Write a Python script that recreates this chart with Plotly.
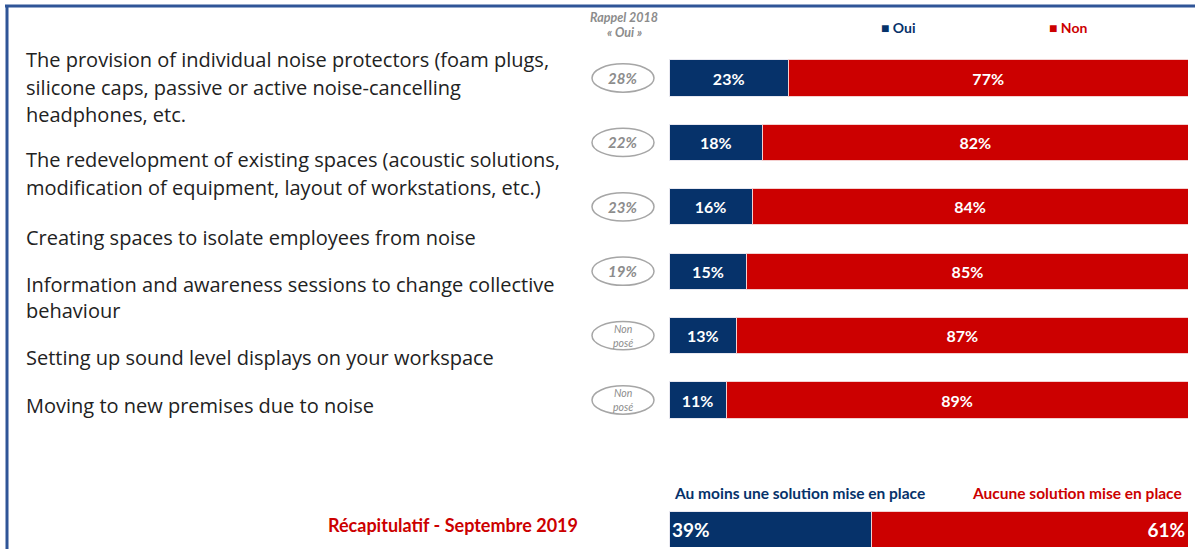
import plotly.graph_objects as go

# --- data -------------------------------------------------------------
solutions = [
    "The provision of individual noise protectors (foam plugs,<br>silicone caps, passive or active noise-cancelling<br>headphones, etc.",
    "The redevelopment of existing spaces (acoustic solutions,<br>modification of equipment, layout of workstations, etc.)",
    "Creating spaces to isolate employees from noise",
    "Information and awareness sessions to change collective<br>behaviour",
    "Setting up sound level displays on your workspace",
    "Moving to new premises due to noise",
]
oui = [23, 18, 16, 15, 13, 11]
non = [77, 82, 84, 85, 87, 89]
rappel_2018 = ["28%", "22%", "23%", "19%", "Non<br>posé", "Non<br>posé"]

summary_oui = 39
summary_non = 61
summary_labels = ["Au moins une solution mise en place", "Aucune solution mise en place"]

NAVY = "#06326A"
RED = "#CC0000"
FONT = "Lato"
LABEL_FONT = "Open Sans"

W, H = 1195, 551


def py(pixel_y):
    """Convert a pixel row (from top) to paper fraction."""
    return 1 - pixel_y / H


def px(pixel_x):
    return pixel_x / W


fig = go.Figure()

rows = list(range(len(solutions)))

fig.add_trace(go.Bar(
    y=rows, x=oui, orientation="h", name="Oui",
    marker=dict(color=NAVY, line=dict(color="#E8E8F0", width=1)),
    text=[f"{v}%" for v in oui], textposition="inside", insidetextanchor="middle",
    textfont=dict(family=FONT, size=16, color="white", weight="bold"),
    width=0.56, xaxis="x", yaxis="y", showlegend=False,
))
fig.add_trace(go.Bar(
    y=rows, x=non, orientation="h", name="Non",
    marker=dict(color=RED, line=dict(color="#F4D0D0", width=1)),
    text=[f"{v}%" for v in non], textposition="inside", insidetextanchor="middle",
    textfont=dict(family=FONT, size=16, color="white", weight="bold"),
    width=0.56, xaxis="x", yaxis="y", showlegend=False,
))

# summary bar
fig.add_trace(go.Bar(
    y=[0], x=[summary_oui], orientation="h",
    marker=dict(color=NAVY, line=dict(color="#E8E8F0", width=1)),
    text=[f"{summary_oui}%"], textposition="inside", insidetextanchor="start",
    textfont=dict(family=FONT, size=19, color="white", weight="bold"),
    width=1, xaxis="x2", yaxis="y2", showlegend=False,
))
fig.add_trace(go.Bar(
    y=[0], x=[summary_non], orientation="h",
    marker=dict(color=RED, line=dict(color="#F4D0D0", width=1)),
    text=[f"{summary_non}%"], textposition="inside", insidetextanchor="end",
    textfont=dict(family=FONT, size=19, color="white", weight="bold"),
    width=1, xaxis="x2", yaxis="y2", showlegend=False,
))

row_top, row_bottom = 45.8, 432.2
bar_left, bar_right = 669, 1188

axis_common = dict(visible=False, fixedrange=True)
fig.update_layout(
    width=W, height=H,
    margin=dict(l=0, r=0, t=0, b=0),
    paper_bgcolor="white", plot_bgcolor="white",
    barmode="stack",
    xaxis=dict(domain=[px(bar_left), px(bar_right)], range=[0, 100], **axis_common),
    yaxis=dict(domain=[py(row_bottom), py(row_top)], range=[len(rows) - 0.5, -0.5], **axis_common),
    xaxis2=dict(domain=[px(bar_left), px(bar_right)], range=[0, 100], anchor="y2", **axis_common),
    yaxis2=dict(domain=[py(547), py(511)], range=[-0.5, 0.5], anchor="x2", **axis_common),
)


def note(text, x, y, size, color, xanchor="center", bold=True, family=FONT):
    fig.add_annotation(
        text=text, x=px(x), y=py(y), xref="paper", yref="paper",
        xanchor=xanchor, yanchor="middle", showarrow=False,
        font=dict(family=family, size=size, color=color,
                  weight="bold" if bold else "normal"),
    )


# left-hand labels, one annotation per text line
label_line_y = [[59, 87, 115], [159, 187], [237], [284, 311], [357], [405]]
for label, ys in zip(solutions, label_line_y):
    for line, yy in zip(label.split("<br>"), ys):
        note(line, 24, yy, 20, "#222222", xanchor="left", bold=False, family=LABEL_FONT)

# 2018 recall ellipses
for i, r in enumerate(rappel_2018):
    fig.add_shape(
        type="circle", xref="paper", yref="y",
        x0=px(592), x1=px(654), y0=i - 0.22, y1=i + 0.22,
        line=dict(color="#A6A6A6", width=1.5), fillcolor="white", layer="above",
    )
    small = "<br>" in r
    fig.add_annotation(
        text=f"<i>{r}</i>", x=px(623), y=i, xref="paper", yref="y",
        showarrow=False, xanchor="center", yanchor="middle",
        font=dict(family=FONT, size=10.5 if small else 15, color="#8C8C8C",
                  weight="normal" if small else "bold"),
    )

# header
note("<i>Rappel 2018</i>", 624, 17, 12.5, "#8C8C8C")
note("<i>« Oui »</i>", 624, 33, 12.5, "#8C8C8C")
note("■ Oui", 879, 27, 14, NAVY, xanchor="left")
note("■ Non", 1047, 27, 14, RED, xanchor="left")

# summary headings
note(summary_labels[0], 672, 493, 15.5, NAVY, xanchor="left")
note(summary_labels[1], 1184, 493, 15.5, RED, xanchor="right")
note("Récapitulatif - Septembre 2019", 453, 525, 18, RED)

# frame lines (top and left)
fig.add_shape(type="line", xref="paper", yref="paper", x0=px(5), x1=1, y0=py(6), y1=py(6),
              line=dict(color="#2F5597", width=3))
fig.add_shape(type="line", xref="paper", yref="paper", x0=px(7), x1=px(7), y0=py(5), y1=py(549),
              line=dict(color="#2F5597", width=3))

fig.write_html("out.html")
